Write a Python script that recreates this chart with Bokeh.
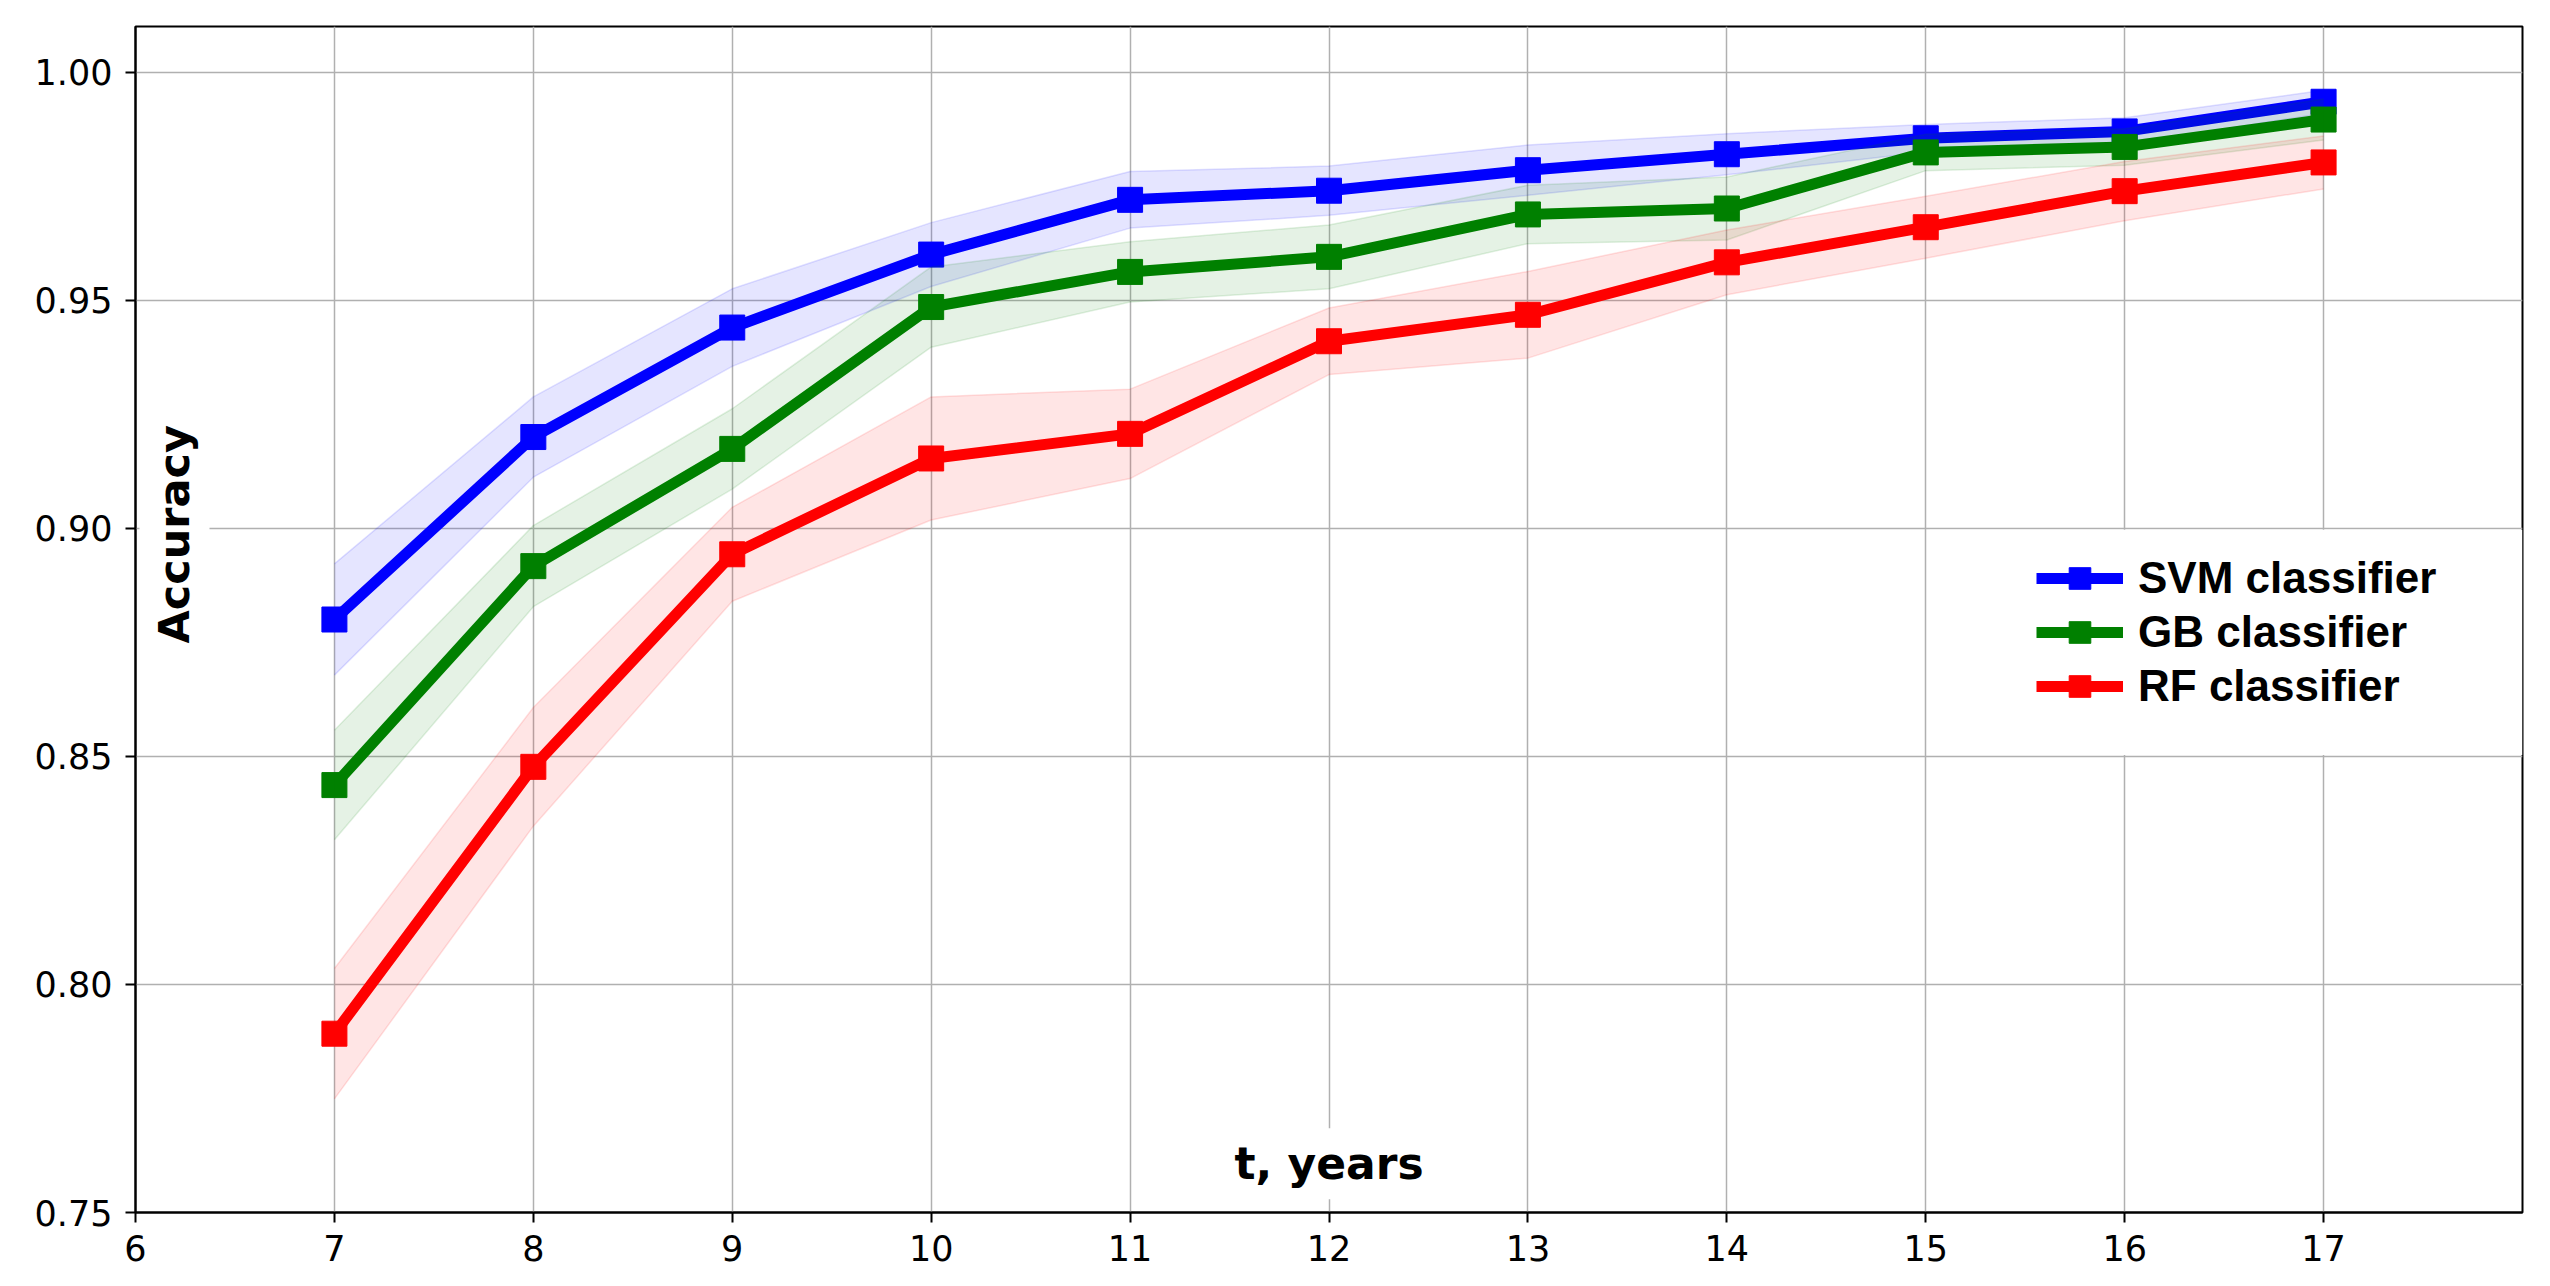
from bokeh.plotting import figure
from bokeh.models import (ColumnDataSource, FixedTicker, Legend, LegendItem, Label,
                          BoxAnnotation, Range1d, PrintfTickFormatter)
from bokeh.embed import file_html
from bokeh.resources import INLINE

# ---- data ----
years = [7, 8, 9, 10, 11, 12, 13, 14, 15, 16, 17]
svm_mean = [0.880, 0.920, 0.944, 0.960, 0.972, 0.974, 0.9785, 0.982, 0.9855, 0.9870, 0.9935]
svm_std = [0.0122, 0.0088, 0.0085, 0.0070, 0.0062, 0.0054, 0.0055, 0.0045, 0.0030, 0.0030, 0.0025]
gb_mean = [0.8437, 0.8917, 0.9174, 0.9485, 0.9562, 0.9595, 0.9688, 0.9701, 0.9824, 0.9836, 0.9896]
gb_std = [0.0120, 0.0089, 0.0088, 0.0088, 0.0066, 0.0070, 0.0064, 0.0069, 0.0040, 0.0040, 0.0045]
rf_mean = [0.7892, 0.8477, 0.8943, 0.9153, 0.9207, 0.9410, 0.9468, 0.9583, 0.9660, 0.9739, 0.9802]
rf_std = [0.0143, 0.0130, 0.0103, 0.0135, 0.0098, 0.0073, 0.0095, 0.0071, 0.0068, 0.0065, 0.0058]

series_names = ["SVM classifier", "GB classifier", "RF classifier"]
series_colors = ["#0000ff", "#008000", "#ff0000"]

x_ticks = [6, 7, 8, 9, 10, 11, 12, 13, 14, 15, 16, 17]
y_ticks = [0.75, 0.80, 0.85, 0.90, 0.95, 1.00]

p = figure(width=2542, height=1278, output_backend="svg", toolbar_location=None,
           x_range=Range1d(6, 18), y_range=Range1d(0.75, 1.01),
           min_border_left=135, min_border_right=20, min_border_top=26, min_border_bottom=66)
p.background_fill_color = "white"
p.border_fill_color = "white"
p.outline_line_color = "black"
p.outline_line_width = 2
p.outline_line_alpha = 1.0

p.xaxis.ticker = FixedTicker(ticks=x_ticks)
p.yaxis.ticker = FixedTicker(ticks=y_ticks)
p.yaxis.formatter = PrintfTickFormatter(format="%.2f")
for ax in (p.xaxis, p.yaxis):
    ax.axis_line_color = "black"
    ax.axis_line_width = 2
    ax.major_tick_line_color = "black"
    ax.major_tick_line_width = 2
    ax.major_tick_out = 10
    ax.major_tick_in = 0
    ax.minor_tick_out = 0
    ax.minor_tick_in = 0
    ax.major_label_text_font = "DejaVu Sans"
    ax.major_label_text_font_size = "35px"
    ax.major_label_text_color = "black"
p.xaxis.major_label_standoff = 12
p.yaxis.major_label_standoff = 13

p.xgrid.ticker = FixedTicker(ticks=x_ticks)
p.ygrid.ticker = FixedTicker(ticks=y_ticks)
for g in (p.xgrid, p.ygrid):
    g.grid_line_color = "#b0b0b0"
    g.grid_line_width = 1.5

items = []
for name, color, mean, std in zip(series_names, series_colors,
                                  [svm_mean, gb_mean, rf_mean],
                                  [svm_std, gb_std, rf_std]):
    lower = [m - s for m, s in zip(mean, std)]
    upper = [m + s for m, s in zip(mean, std)]
    src = ColumnDataSource(dict(x=years, y=mean, lower=lower, upper=upper))
    ln = p.line("x", "y", source=src, line_color=color, line_width=11)
    sc = p.scatter("x", "y", source=src, marker="square", size=25,
                   fill_color=color, line_color=color)
    p.varea(x="x", y1="lower", y2="upper", source=src, fill_color=color, fill_alpha=0.1)
    p.line("x", "upper", source=src, line_color=color, line_alpha=0.12, line_width=1.5)
    p.line("x", "lower", source=src, line_color=color, line_alpha=0.12, line_width=1.5)
    items.append(LegendItem(label=name, renderers=[ln, sc]))

# white patch behind the legend (covers grid lines there, as in the original)
p.add_layout(BoxAnnotation(left=15.02, right=18, bottom=0.8503, top=0.8997,
                           fill_color="white", fill_alpha=1.0, line_alpha=0))

legend = Legend(items=items, location=(1901, 499),
                glyph_width=87, glyph_height=54, spacing=0,
                label_standoff=15, padding=0, margin=0,
                label_text_font="Liberation Sans", label_text_font_style="bold",
                label_text_font_size="44px", label_text_color="black",
                background_fill_alpha=0, border_line_alpha=0)
p.add_layout(legend)

p.add_layout(Label(x=6.196, y=0.8987, text="Accuracy", angle=90, angle_units="deg",
                   text_align="center", text_baseline="middle",
                   text_font="DejaVu Sans", text_font_style="bold", text_font_size="43px",
                   text_color="black", background_fill_color="white", padding=10))
p.add_layout(Label(x=12.0, y=0.7607, text="t, years",
                   text_align="center", text_baseline="alphabetic",
                   text_font="DejaVu Sans", text_font_style="bold", text_font_size="44px",
                   text_color="black", background_fill_color="white", padding=10))

open("out.html", "w").write(file_html(p, INLINE))
